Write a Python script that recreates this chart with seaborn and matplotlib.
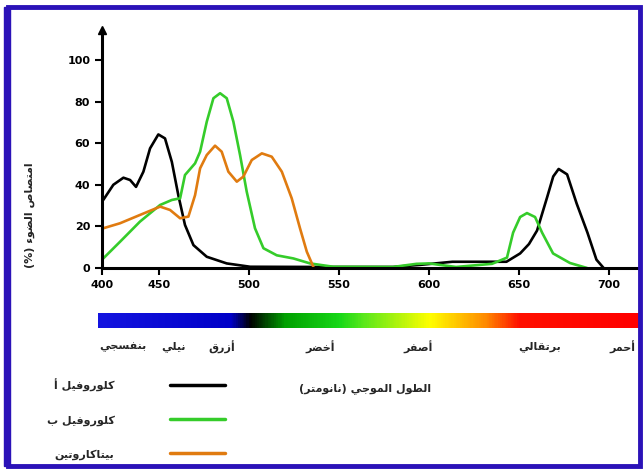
import numpy as np
import pandas as pd
import matplotlib
matplotlib.use("Agg")
import matplotlib.pyplot as plt
from matplotlib.colors import LinearSegmentedColormap
from matplotlib.patches import Rectangle
import seaborn as sns

# Absorption spectra (wavelength nm, absorption %)
chl_a_nm = [419, 424.6, 430.2, 433.9, 437.2, 441.3, 445, 449.6, 453.3, 457.1, 460.7,
            464.4, 469.1, 476.5, 487.6, 500.6, 540, 580, 595, 613, 643, 650.6,
            655.5, 660, 665.6, 669, 672, 676.7, 682, 688, 693, 697]
chl_a_abs = [32.7, 40, 43.4, 42.3, 39, 46.3, 57.5, 64.2, 62.3, 51, 35,
             20.7, 11, 5.4, 2.2, 0.6, 0.5, 0.5, 1.5, 3, 3, 7,
             11.5, 18, 34, 44, 47.6, 45, 31, 17, 4, 0]

chl_b_nm = [419, 428.3, 439.4, 450.6, 457.1, 461.7, 464.4, 470, 472.8, 476.5, 480.2,
            483.9, 487.6, 491.3, 495, 498.7, 503.3, 508, 515.4, 524.6, 533.9,
            546.8, 580, 593, 600, 606, 615, 635, 643.3, 646.7, 650.6, 654.4,
            658.9, 662.8, 668.9, 678.3, 687.8]
chl_b_abs = [4.6, 12.6, 22.3, 30.3, 32.7, 33.5, 44.7, 50.3, 55.9, 70.3, 81.6,
             84, 81.6, 70.3, 54.3, 36.7, 19.1, 9.5, 6.1, 4.6, 2.2,
             0.6, 0.5, 2, 2.2, 1.5, 0.5, 2, 5, 17, 24.5, 26.4,
             24.5, 17, 7, 2.4, 0]

carot_nm = [419, 428.3, 439.4, 450.6, 456.1, 461.7, 466.3, 470, 472.8, 476.5, 481.1,
            484.8, 488.5, 493.2, 496.8, 501.5, 507.1, 512.6, 518.2, 523.7, 528.3,
            532.1, 535.7]
carot_abs = [19.1, 21.5, 25.5, 29.5, 27.9, 23.9, 24.7, 35, 47.9, 54.3, 58.8,
             55.9, 46.3, 41.5, 43.9, 51.9, 55.1, 53.5, 46.3, 33.5, 19.1,
             7.8, 0.6]

pigments = ["كلوروفيل أ", "كلوروفيل ب", "بيتاكاروتين"]
pigment_colors = ["#000000", "#35cc2a", "#e07b10"]

x_ticks = [450, 500, 550, 600, 650, 700]
y_ticks = [0, 20, 40, 60, 80, 100]

color_names = ["بنفسجي", "نيلي", "أزرق", "أخضر", "أصفر", "برتقالي", "أحمر"]
color_label_x = [123, 174, 222, 320, 418, 540, 622]  # pixel centres under the bar

spectrum_pos = [0.0, 0.244, 0.28, 0.345, 0.446, 0.49, 0.613, 0.718, 0.779, 1.0]
spectrum_col = ["#1414e0", "#0000c8", "#000000", "#00a000", "#18d818", "#5ae81c",
                "#ffff00", "#ff8800", "#ff1000", "#ff0000"]

# matplotlib does not shape Arabic, so map letters to presentation forms
FORMS = {
    "ء": (0xFE80, 1), "أ": (0xFE83, 2), "ا": (0xFE8D, 2), "ب": (0xFE8F, 4),
    "ت": (0xFE95, 4), "ج": (0xFE9D, 4), "ح": (0xFEA1, 4), "خ": (0xFEA5, 4),
    "ر": (0xFEAD, 2), "ز": (0xFEAF, 2), "س": (0xFEB1, 4), "ص": (0xFEB9, 4),
    "ض": (0xFEBD, 4), "ط": (0xFEC1, 4), "ف": (0xFED1, 4), "ق": (0xFED5, 4),
    "ك": (0xFED9, 4), "ل": (0xFEDD, 4), "م": (0xFEE1, 4), "ن": (0xFEE5, 4),
    "و": (0xFEED, 2), "ي": (0xFEF1, 4),
}


def ar(text):
    out = []
    for i, ch in enumerate(text):
        if ch not in FORMS:
            out.append({"(": ")", ")": "("}.get(ch, ch))
            continue
        base, n = FORMS[ch]
        prev = text[i - 1] if i > 0 else ""
        nxt = text[i + 1] if i + 1 < len(text) else ""
        jp = n > 1 and prev in FORMS and FORMS[prev][1] == 4
        jn = n == 4 and nxt in FORMS and FORMS[nxt][1] > 1
        if jp and jn:
            code = base + 3
        elif jp:
            code = base + 1
        elif jn:
            code = base + 2
        else:
            code = base
        out.append(chr(code))
    return "".join(reversed(out))


df = pd.concat([
    pd.DataFrame({"nm": chl_a_nm, "abs": chl_a_abs, "pigment": ar(pigments[0])}),
    pd.DataFrame({"nm": chl_b_nm, "abs": chl_b_abs, "pigment": ar(pigments[1])}),
    pd.DataFrame({"nm": carot_nm, "abs": carot_abs, "pigment": ar(pigments[2])}),
])

sns.set_style("ticks")
plt.rcParams["font.family"] = ["DejaVu Sans"]
plt.rcParams["font.weight"] = "bold"
plt.rcParams["lines.solid_joinstyle"] = "round"

W, H = 643, 471
fig = plt.figure(figsize=(W / 100, H / 100), dpi=100)
ax = fig.add_axes([102 / W, 1 - 268 / H, 538 / W, 238 / H])

sns.lineplot(data=df, x="nm", y="abs", hue="pigment", estimator=None, sort=False,
             palette=dict(zip([ar(p) for p in pigments], pigment_colors)),
             linewidth=1.9, ax=ax)

# left edge of the original axis is labelled 400 though its spacing is squeezed
ax.set_xlim(418.3, 717.2)
ax.set_ylim(0, 114.4)
ax.set_xticks([418.3] + x_ticks)
ax.set_xticklabels(["400"] + [str(t) for t in x_ticks])
ax.set_yticks(y_ticks)
ax.tick_params(width=1.5, length=5, labelsize=8, colors="black")
for lab in ax.get_xticklabels() + ax.get_yticklabels():
    lab.set_fontweight("bold")
sns.despine(ax=ax)
for s in ["left", "bottom"]:
    ax.spines[s].set_linewidth(2.2)
    ax.spines[s].set_color("black")
ax.plot(0, 1, marker="^", color="black", markersize=6, transform=ax.transAxes,
        clip_on=False)

ax.set_xlabel(ar("الطول الموجي (نانومتر)"), fontsize=8, fontweight="bold")
ax.xaxis.set_label_coords(0.489, -0.483)
ax.set_ylabel(ar("امتصاص الضوء (%)"), fontsize=8, fontweight="bold")
ax.yaxis.set_label_coords(-0.125, 0.223)

sns.move_legend(ax, loc="center", bbox_to_anchor=(136 / W, 1 - 419 / H),
                bbox_transform=fig.transFigure, title=None, frameon=False,
                markerfirst=False, handlelength=5, handletextpad=5,
                labelspacing=2.1, prop={"size": 8, "weight": "bold"})
for line in ax.get_legend().get_lines():
    line.set_linewidth(2.5)

# visible spectrum bar
bax = fig.add_axes([98 / W, 1 - 328 / H, 542 / W, 15 / H])
cmap = LinearSegmentedColormap.from_list("spec", list(zip(spectrum_pos, spectrum_col)))
bax.imshow(np.linspace(0, 1, 600)[None, :], aspect="auto", cmap=cmap,
           extent=[0, 1, 0, 1])
bax.set_axis_off()

for name, px in zip(color_names, color_label_x):
    fig.text(px / W, 1 - 347 / H, ar(name), ha="center", va="center",
             fontsize=8, fontweight="bold")

# blue picture frame
fig.patches.append(Rectangle((8 / W, 5 / H), 632 / W, 459 / H, fill=False,
                             edgecolor="#2b12b8", linewidth=3.5,
                             transform=fig.transFigure, figure=fig))
fig.patches.append(Rectangle((4 / W, 5 / H), 6 / W, 459 / H, color="#2b12b8",
                             transform=fig.transFigure, figure=fig))

fig.savefig("out.png", dpi=100)
